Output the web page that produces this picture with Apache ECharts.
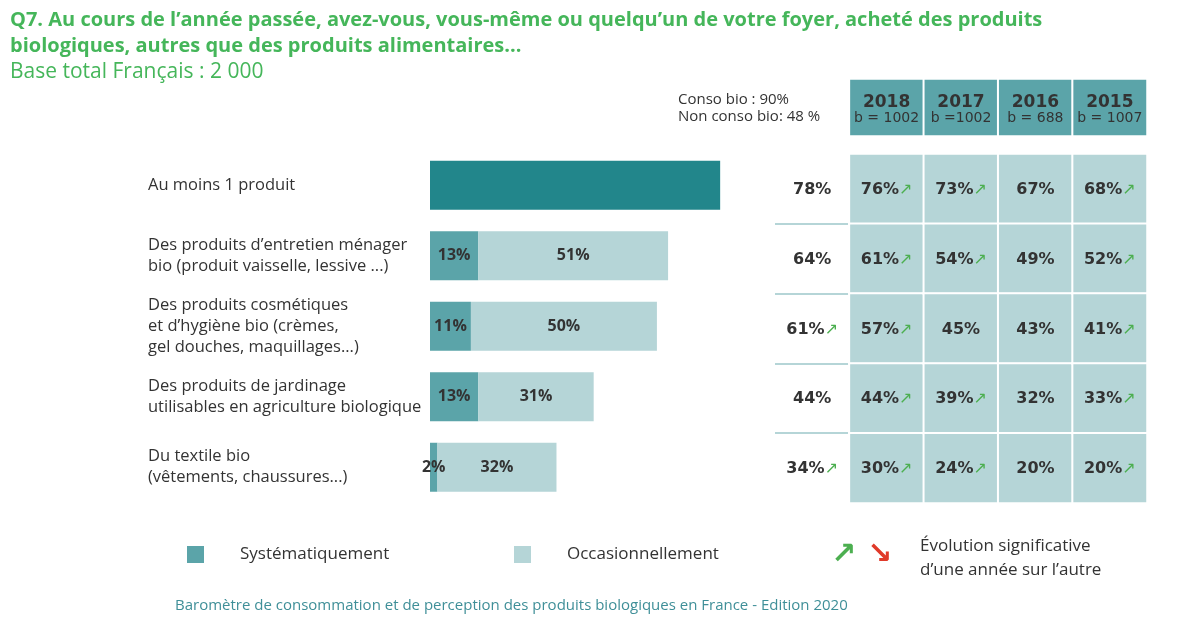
<!DOCTYPE html>
<html>
<head>
<meta charset="utf-8">
<script src="https://cdn.jsdelivr.net/npm/echarts@6/dist/echarts.min.js"></script>
<style>html,body{margin:0;padding:0;background:#fff}#c{width:1183px;height:630px}</style>
</head>
<body>
<div id="c"></div>
<script>
// ---------- DATA ----------
var categories = [
  'Au moins 1 produit',
  'Des produits d\u2019entretien ménager\nbio (produit vaisselle, lessive ...)',
  'Des produits cosmétiques\net d\u2019hygiène bio (crèmes,\ngel douches, maquillages...)',
  'Des produits de jardinage\nutilisables en agriculture biologique',
  'Du textile bio\n(vêtements, chaussures...)'
];
var atLeastOne = [78, null, null, null, null];
var systematic = [null, 13, 11, 13, 2];
var occasional = [null, 51, 50, 31, 32];

var tableCols = ['2019', '2018', '2017', '2016', '2015'];
var headerYears = ['2018', '2017', '2016', '2015'];
var headerBases = ['b = 1002', 'b =1002', 'b = 688', 'b = 1007'];
var val2019 = [78, 64, 61, 44, 34];
var up2019  = [0, 0, 1, 0, 1];
var val2018 = [76, 61, 57, 44, 30];
var up2018  = [1, 1, 1, 1, 1];
var val2017 = [73, 54, 45, 39, 24];
var up2017  = [1, 1, 0, 1, 1];
var val2016 = [67, 49, 43, 32, 20];
var up2016  = [0, 0, 0, 0, 0];
var val2015 = [68, 52, 41, 33, 20];
var up2015  = [1, 1, 1, 1, 1];

// ---------- BUILD ----------
var colVals = [val2019, val2018, val2017, val2016, val2015];
var colUps = [up2019, up2018, up2017, up2016, up2015];
var tableData = [];
for (var c = 0; c < colVals.length; c++) {
  for (var r = 0; r < categories.length; r++) {
    var item = { value: [c, r, colVals[c][r]], up: colUps[c][r] };
    if (c === 0) item.itemStyle = { color: 'rgba(255,255,255,0)', borderWidth: 0 };
    tableData.push(item);
  }
}
var headerData = headerYears.map(function (y, i) { return { value: [i, 0, i] }; });

var GREEN = '#45b65a';
var DARK = '#5ba4a9';
var LIGHT = '#b5d5d7';
var FULL = '#22868b';
var TXT = '#333333';

var chart = echarts.init(document.getElementById('c'));
chart.setOption({
  animation: false,
  backgroundColor: '#ffffff',
  title: [
    {
      text: 'Q7. Au cours de l\u2019année passée, avez-vous, vous-même ou quelqu\u2019un de votre foyer, acheté des produits\nbiologiques, autres que des produits alimentaires...',
      subtext: 'Base total Français : 2 000',
      left: 10, top: 7, itemGap: 0, padding: 0,
      textStyle: { fontFamily: 'Open Sans', fontWeight: 'bold', fontSize: 20, color: GREEN, lineHeight: 26 },
      subtextStyle: { fontFamily: 'Open Sans', fontWeight: 'normal', fontSize: 21, color: GREEN, lineHeight: 26 }
    },
    {
      text: 'Conso bio : 90%\nNon conso bio: 48 %',
      left: 678, top: 91, padding: 0,
      textStyle: { fontFamily: 'Open Sans', fontWeight: 'normal', fontSize: 15, color: TXT, lineHeight: 17 }
    },
    {
      text: 'Évolution significative\nd\u2019une année sur l\u2019autre',
      left: 920, top: 534, padding: 0,
      textStyle: { fontFamily: 'Open Sans', fontWeight: 'normal', fontSize: 17, color: TXT, lineHeight: 24 }
    },
    {
      text: 'Baromètre de consommation et de perception des produits biologiques en France - Edition 2020',
      left: 175, top: 598, padding: 0,
      textStyle: { fontFamily: 'Open Sans', fontWeight: 'normal', fontSize: 15, color: '#3f8f98' }
    }
  ],
  legend: [
    {
      data: ['Systématiquement'], left: 187, top: 546, padding: 0,
      itemWidth: 17, itemHeight: 17, icon: 'rect', selectedMode: false,
      textStyle: { fontFamily: 'Open Sans', fontSize: 17, color: TXT, padding: [0, 0, 0, 31] }
    },
    {
      data: ['Occasionnellement'], left: 514, top: 546, padding: 0,
      itemWidth: 17, itemHeight: 17, icon: 'rect', selectedMode: false,
      textStyle: { fontFamily: 'Open Sans', fontSize: 17, color: TXT, padding: [0, 0, 0, 31] }
    }
  ],
  graphic: [
    { type: 'text', left: 831, top: 540, style: { text: '\u2197', fontFamily: 'DejaVu Sans', fontWeight: 'bold', fontSize: 30, fill: '#4caf50' } },
    { type: 'text', left: 867, top: 540, style: { text: '\u2198', fontFamily: 'DejaVu Sans', fontWeight: 'bold', fontSize: 30, fill: '#e03a2a' } }
  ],
  grid: [
    { left: 430, top: 150, width: 372, height: 352.5 },
    { left: 775, top: 154, width: 372, height: 349 },
    { left: 849.4, top: 79, width: 297.6, height: 57 }
  ],
  xAxis: [
    { gridIndex: 0, type: 'value', min: 0, max: 100, show: false },
    { gridIndex: 1, type: 'category', data: tableCols, show: false },
    { gridIndex: 2, type: 'category', data: headerYears, show: false }
  ],
  yAxis: [
    {
      gridIndex: 0, type: 'category', data: categories, inverse: true,
      axisLine: { show: false }, axisTick: { show: false }, splitLine: { show: false },
      axisLabel: { align: 'left', margin: 282, fontFamily: 'Open Sans', fontSize: 16.5, color: TXT, lineHeight: 21 }
    },
    {
      gridIndex: 1, type: 'category', data: categories, inverse: true, show: true,
      axisLine: { show: false }, axisTick: { show: false }, axisLabel: { show: false },
      splitLine: { show: true, showMinLine: false, showMaxLine: false, lineStyle: { color: LIGHT, width: 2 } }
    },
    { gridIndex: 2, type: 'category', data: ['header'], show: false }
  ],
  series: [
    {
      name: 'Au moins 1 produit', type: 'bar', stack: 'bio', xAxisIndex: 0, yAxisIndex: 0,
      barWidth: 49, data: atLeastOne, itemStyle: { color: FULL }, silent: true
    },
    {
      name: 'Systématiquement', type: 'bar', stack: 'bio', xAxisIndex: 0, yAxisIndex: 0,
      barWidth: 49, data: systematic, itemStyle: { color: DARK }, silent: true,
      label: { show: true, position: 'inside', formatter: '{c}%', fontFamily: 'Open Sans', fontWeight: 'bold', fontSize: 16, color: TXT }
    },
    {
      name: 'Occasionnellement', type: 'bar', stack: 'bio', xAxisIndex: 0, yAxisIndex: 0,
      barWidth: 49, data: occasional, itemStyle: { color: LIGHT }, silent: true,
      label: { show: true, position: 'inside', formatter: '{c}%', fontFamily: 'Open Sans', fontWeight: 'bold', fontSize: 16, color: TXT }
    },
    {
      type: 'heatmap', xAxisIndex: 1, yAxisIndex: 1, data: tableData, silent: true,
      itemStyle: { color: LIGHT, borderColor: '#ffffff', borderWidth: 2 },
      emphasis: { disabled: true },
      label: {
        show: true,
        offset: [0, 1],
        formatter: function (p) {
          return '{v|' + p.data.value[2] + '%}' + (p.data.up ? '{a|\u2197}' : '');
        },
        rich: {
          v: { fontFamily: 'DejaVu Sans', fontWeight: 'bold', fontSize: 16, color: TXT },
          a: { fontFamily: 'DejaVu Sans', fontSize: 16, color: '#4caf50' }
        }
      }
    },
    {
      type: 'heatmap', xAxisIndex: 2, yAxisIndex: 2, data: headerData, silent: true,
      itemStyle: { color: DARK, borderColor: '#ffffff', borderWidth: 2 },
      emphasis: { disabled: true },
      label: {
        show: true,
        offset: [0, 3],
        formatter: function (p) {
          var i = p.data.value[0];
          return '{y|' + headerYears[i] + '}\n{b|' + headerBases[i] + '}';
        },
        rich: {
          y: { fontFamily: 'DejaVu Sans', fontWeight: 'bold', fontSize: 17, color: TXT, lineHeight: 15 },
          b: { fontFamily: 'DejaVu Sans', fontSize: 14, color: TXT, lineHeight: 15 }
        }
      }
    }
  ]
});
</script>
</body>
</html>
